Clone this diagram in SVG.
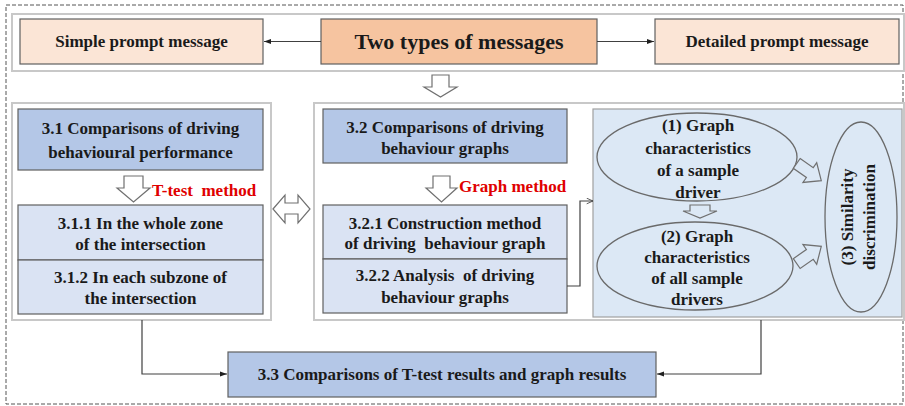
<svg xmlns="http://www.w3.org/2000/svg" width="905" height="406" viewBox="0 0 905 406">
<defs>
<style>
text{font-family:"Liberation Serif","Times New Roman",Times,serif;font-weight:bold;fill:#1a1a1a;text-anchor:middle}
.t16{font-size:17px}
.t21{font-size:22px}
.red{fill:#e00000;text-anchor:start}
.panel{fill:#fff;stroke:#c8c8c8;stroke-width:2}
.peach{fill:#fbe5d6;stroke:#606060;stroke-width:1.2}
.orange{fill:#f6c4a0;stroke:#606060;stroke-width:1.2}
.blue{fill:#b4c7e7;stroke:#606060;stroke-width:1.2}
.lblue{fill:#dae3f3;stroke:#606060;stroke-width:1.2}
.inner{fill:#dce8f5;stroke:#a0a0a0;stroke-width:1.2}
.ell{fill:#dce8f5;stroke:#6a6a6a;stroke-width:1.3}
.hollow{fill:#fff;stroke:#707070;stroke-width:1.2;stroke-linejoin:miter}
.hollowb{fill:#dce8f5;stroke:#707070;stroke-width:1.2}
.conn{fill:none;stroke:#404040;stroke-width:1.2}
</style>
<marker id="ah" viewBox="0 0 10 10" refX="10" refY="5" markerWidth="7" markerHeight="7" orient="auto" markerUnits="userSpaceOnUse">
<path d="M0,1.5 L10,5 L0,8.5 Z" fill="#202020"/>
</marker>
<marker id="oa" viewBox="0 0 10 10" refX="10" refY="5" markerWidth="7" markerHeight="7" orient="auto" markerUnits="userSpaceOnUse">
<path d="M1,1 L10,5 L1,9" fill="none" stroke="#404040" stroke-width="1.2"/>
</marker>
</defs>

<g font-family="'Liberation Serif', serif">
<rect x="6" y="5" width="897" height="399" fill="#fff" stroke="#555" stroke-width="1" stroke-dasharray="4,2"/>

<g id="top-panel"><rect class="panel" x="12" y="14" width="892" height="57"/></g>
<g id="left-panel"><rect class="panel" x="12" y="103" width="259" height="217"/></g>
<g id="right-panel"><rect class="panel" x="314" y="103" width="590" height="217"/></g>

<g id="simple"><rect class="peach" x="20" y="19" width="243" height="45"/><text class="t16" x="141.5" y="47">Simple prompt message</text></g>
<g id="two-types"><rect class="orange" x="321" y="19" width="276" height="45"/><text class="t21" x="459" y="49">Two types of messages</text></g>
<g id="detailed"><rect class="peach" x="655" y="19" width="244" height="45"/><text class="t16" x="777" y="47">Detailed prompt message</text></g>

<g id="arrow-down-top"><path class="hollow" d="M432,75 L449,75 L449,87 L457,87 L440.5,97 L424,87 L432,87 Z"/></g>

<g id="s31"><rect class="blue" x="18" y="109" width="245" height="61"/><text class="t16" x="140.5" y="134">3.1 Comparisons of driving</text><text class="t16" x="140.5" y="158">behavioural performance</text></g>
<g id="ttest-arrow"><path class="hollow" d="M124,176 L143,176 L143,188 L150,188 L133.5,202 L117,188 L124,188 Z"/><text class="t16 red" x="152" y="196">T-test&#160; method</text></g>
<g id="s311"><rect class="lblue" x="18" y="205" width="245" height="55"/><text class="t16" x="140.5" y="229">3.1.1 In the whole zone</text><text class="t16" x="140.5" y="250">of the intersection</text></g>
<g id="s312"><rect class="lblue" x="18" y="260" width="245" height="54"/><text class="t16" x="140.5" y="283">3.1.2 In each subzone of</text><text class="t16" x="140.5" y="304">the intersection</text></g>

<g id="double-arrow"><path class="hollow" d="M273,209 L285,195 L285,203 L298,203 L298,195 L310,209 L298,223 L298,214 L285,214 L285,223 Z"/></g>

<g id="s32"><rect class="blue" x="323" y="109" width="244" height="54"/><text class="t16" x="445" y="133">3.2 Comparisons of driving</text><text class="t16" x="445" y="154">behaviour graphs</text></g>
<g id="graph-arrow"><path class="hollow" d="M433,176 L450,176 L450,188 L457,188 L441.5,202 L426,188 L433,188 Z"/><text class="t16 red" x="459" y="192">Graph method</text></g>
<g id="s321"><rect class="lblue" x="323" y="205" width="244" height="54"/><text class="t16" x="445" y="229">3.2.1 Construction method</text><text class="t16" x="445" y="249">of driving&#160; behaviour graph</text></g>
<g id="s322"><rect class="lblue" x="323" y="259" width="244" height="54"/><text class="t16" x="445" y="281">3.2.2 Analysis&#160; of driving</text><text class="t16" x="445" y="303">behaviour graphs</text></g>

<g id="graph-panel"><rect class="inner" x="593" y="109" width="309" height="208"/></g>
<g id="e1"><ellipse class="ell" cx="697" cy="157" rx="100" ry="44"/><text class="t16" x="698" y="131">(1) Graph</text><text class="t16" x="698" y="154">characteristics</text><text class="t16" x="698" y="176">of a sample</text><text class="t16" x="698" y="198">driver</text></g>
<g id="small-arrow"><path class="hollowb" d="M690,205 L710,205 L710,211 L717,211 L700,218 L683,211 L690,211 Z"/></g>
<g id="e2"><ellipse class="ell" cx="695" cy="266" rx="98" ry="44"/><text class="t16" x="697" y="242">(2) Graph</text><text class="t16" x="697" y="263">characteristics</text><text class="t16" x="697" y="284">of all sample</text><text class="t16" x="697" y="305">drivers</text></g>
<g id="e3"><ellipse class="ell" cx="861" cy="217" rx="36" ry="95"/><text class="t16" transform="translate(853,217) rotate(-90)" x="0" y="0">(3) Similarity</text><text class="t16" transform="translate(875,217) rotate(-90)" x="0" y="0">discrimination</text></g>
<g id="diag-arrow-1"><path class="hollowb" transform="translate(809,172) rotate(35)" d="M-15,-6 L1,-6 L1,-12 L15,0 L1,12 L1,6 L-15,6 Z"/></g>
<g id="diag-arrow-2"><path class="hollowb" transform="translate(809,255) rotate(-35)" d="M-15,-6 L1,-6 L1,-12 L15,0 L1,12 L1,6 L-15,6 Z"/></g>

<g id="s33"><rect class="blue" x="228" y="352" width="428" height="45"/><text class="t16" x="442" y="380">3.3 Comparisons of T-test results and graph results</text></g>

<g id="connectors">
<path class="conn" d="M321,41.5 L264,41.5" marker-end="url(#ah)"/>
<path class="conn" d="M597,41.5 L654,41.5" marker-end="url(#ah)"/>
<path class="conn" d="M567,286 L580,286 L580,201 L593,201" marker-end="url(#oa)"/>
<path class="conn" d="M142,320 L142,374 L227,374" marker-end="url(#ah)"/>
<path class="conn" d="M761,320 L761,374 L657,374" marker-end="url(#ah)"/>
</g>
</g>
</svg>
